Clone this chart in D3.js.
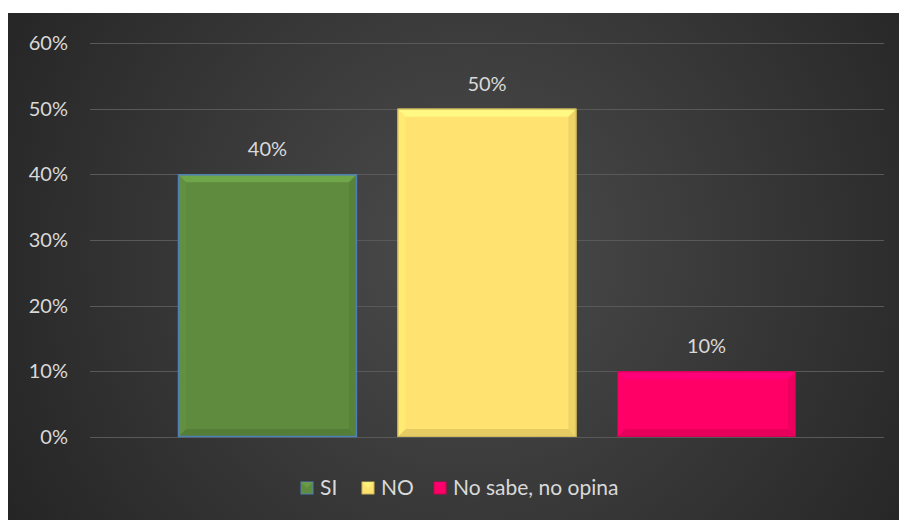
<!DOCTYPE html>
<html><head><meta charset="utf-8">
<script src="https://cdn.jsdelivr.net/npm/d3@7"></script>
<style>html,body{margin:0;padding:0;background:#fff;}svg{display:block;}</style>
</head><body>
<svg id="chart" width="899" height="520"></svg>
<script>
const series = ["SI", "NO", "No sabe, no opina"];
const values = [0.40, 0.50, 0.10];
const colors = ["#5e8b3e", "#ffe26f", "#ff0066"];
const tickValues = [0, 0.1, 0.2, 0.3, 0.4, 0.5, 0.6];
const FONT = "Lato, 'Open Sans', sans-serif";

const svg = d3.select("#chart");
const defs = svg.append("defs");
const rg = defs.append("radialGradient").attr("id","bg").attr("gradientUnits","userSpaceOnUse")
  .attr("cx",470).attr("cy",250).attr("r",560);
rg.append("stop").attr("offset","0%").attr("stop-color","#4c4c4c");
rg.append("stop").attr("offset","100%").attr("stop-color","#232323");
svg.append("rect").attr("x",8).attr("y",13).attr("width",891).attr("height",507).attr("fill","url(#bg)");

const y = d3.scaleLinear().domain([0,0.6]).range([437,43]);
const x = d3.scaleBand().domain(series).range([178,796]).paddingInner(0.185).paddingOuter(0);

svg.append("g").selectAll("line").data(tickValues).join("line")
  .attr("x1",90).attr("x2",884).attr("y1",d=>Math.round(y(d))+0.5).attr("y2",d=>Math.round(y(d))+0.5)
  .attr("stroke","#595959").attr("stroke-width",1);

const yAxis = d3.axisLeft(y).tickValues(tickValues).tickFormat(d3.format(".0%")).tickSize(0).tickPadding(0);
const ag = svg.append("g").attr("transform","translate(68,0)").call(yAxis);
ag.select(".domain").remove();
ag.selectAll("text").attr("fill","#d9d9d9").style("font-family",FONT).style("font-size","20px");

const bev = 8;
const g = svg.append("g");
series.forEach((s,i)=>{
  const x0 = x(s), w = x.bandwidth(), y0 = y(values[i]), y1 = y(0), h = y1-y0;
  const c = d3.color(colors[i]);
  const bg = g.append("g");
  bg.append("rect").attr("x",x0).attr("y",y0).attr("width",w).attr("height",h).attr("fill",colors[i]);
  const b = Math.min(bev, h/3);
  bg.append("polygon").attr("points",[[x0,y0],[x0+w,y0],[x0+w-b,y0+b],[x0+b,y0+b]].join(" "))
    .attr("fill",c.brighter(0.6)).attr("opacity",0.8);
  bg.append("polygon").attr("points",[[x0,y1],[x0+w,y1],[x0+w-b,y1-b],[x0+b,y1-b]].join(" "))
    .attr("fill",c.darker(0.5)).attr("opacity",0.6);
  bg.append("polygon").attr("points",[[x0,y0],[x0+b,y0+b],[x0+b,y1-b],[x0,y1]].join(" "))
    .attr("fill",c.brighter(0.2)).attr("opacity",0.5);
  bg.append("polygon").attr("points",[[x0+w,y0],[x0+w-b,y0+b],[x0+w-b,y1-b],[x0+w,y1]].join(" "))
    .attr("fill",c.darker(0.4)).attr("opacity",0.5);
  bg.append("rect").attr("x",x0+0.5).attr("y",y0+0.5).attr("width",w-1).attr("height",h-1)
    .attr("fill","none").attr("stroke", i===0 ? "#4f7fb8" : c.darker(0.6)).attr("stroke-width", i===0?1.5:1);
  svg.append("text").attr("x",x0+w/2).attr("y",y0-18).attr("text-anchor","middle")
    .attr("fill","#d9d9d9").style("font-family",FONT).style("font-size","20px")
    .text(d3.format(".0%")(values[i]));
});

const legX = [301, 362, 434];
const lg = svg.append("g");
series.forEach((s,i)=>{
  const c = d3.color(colors[i]);
  const lx = legX[i], ly = 482;
  lg.append("rect").attr("x",lx).attr("y",ly).attr("width",12).attr("height",12).attr("fill",colors[i])
    .attr("stroke", i===0 ? "#4f7fb8" : c.darker(0.6)).attr("stroke-width",1);
  lg.append("polygon").attr("points",[[lx,ly],[lx+12,ly],[lx+6,ly+6]].join(" ")).attr("fill",c.brighter(0.5)).attr("opacity",0.6);
  lg.append("text").attr("x",lx+19).attr("y",ly+13).attr("fill","#d9d9d9")
    .style("font-family",FONT).style("font-size","21px").text(s);
});
</script>
</body></html>
